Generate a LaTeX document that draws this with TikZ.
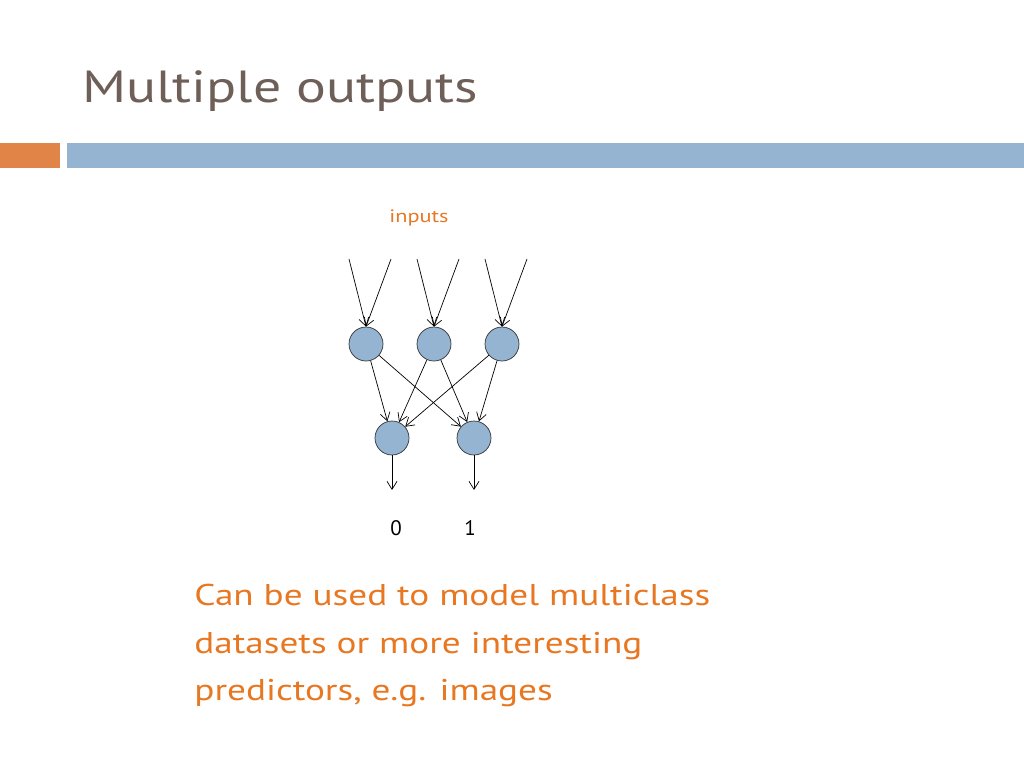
\documentclass[tikz,border=0pt]{standalone}
\usepackage{fontspec}
\setmainfont{PT Sans}
\usetikzlibrary{arrows.meta}
\begin{document}
\begin{tikzpicture}[x=1pt,y=-1pt,
  neuron/.style={circle,draw=black!80,fill={rgb,255:red,148;green,180;blue,210},minimum size=34pt,inner sep=0pt,line width=0.7pt},
  arr/.style={-{Straight Barb[length=8pt,width=10pt]},line width=0.7pt},
  wide/.style={xscale=1.24,transform shape}]
\useasboundingbox (0,0) rectangle (1024,768);
\definecolor{titc}{RGB}{110,95,88}
\definecolor{orng}{RGB}{232,119,34}
\node[wide,anchor=base west,font=\fontsize{45}{50}\selectfont,text=titc] (title) at (78,102) {Multiple outputs};
\fill[fill={rgb,255:red,224;green,132;blue,72}] (0,143) rectangle (60,168);
\fill[fill={rgb,255:red,148;green,180;blue,210}] (67,143) rectangle (1024,168);
\node[wide,font=\fontsize{18}{20}\selectfont,text=orng] (inp) at (419,218) {inputs};
\node[neuron] (h1) at (366,344) {};
\node[neuron] (h2) at (434,344) {};
\node[neuron] (h3) at (502,344) {};
\node[neuron] (o1) at (392,438) {};
\node[neuron] (o2) at (474,438) {};
\foreach \n/\a/\b in {h1/349/391,h2/417/459,h3/485/527}{
  \coordinate (s\n a) at (\a,259); \coordinate (s\n b) at (\b,259);
  \draw[arr] (s\n a) -- (\n.north); \draw[arr] (s\n b) -- (\n.north);}
\foreach \h in {h1,h2,h3}{\foreach \o in {o1,o2}{\draw[arr] (\h) -- (\o);}}
\coordinate (e1) at (392,490); \coordinate (e2) at (474,490);
\draw[arr] (o1) -- (e1); \draw[arr] (o2) -- (e2);
\node[font=\fontsize{21}{22}\selectfont] (l0) at (396,528) {0};
\node[font=\fontsize{21}{22}\selectfont] (l1) at (470,528) {1};
\node[wide,anchor=north west,align=left,text=orng,font=\fontsize{30}{47.5}\selectfont] (body) at (190,581) {Can be used to model multiclass\\datasets or more interesting\\predictors, e.g. images};
\end{tikzpicture}
\end{document}
